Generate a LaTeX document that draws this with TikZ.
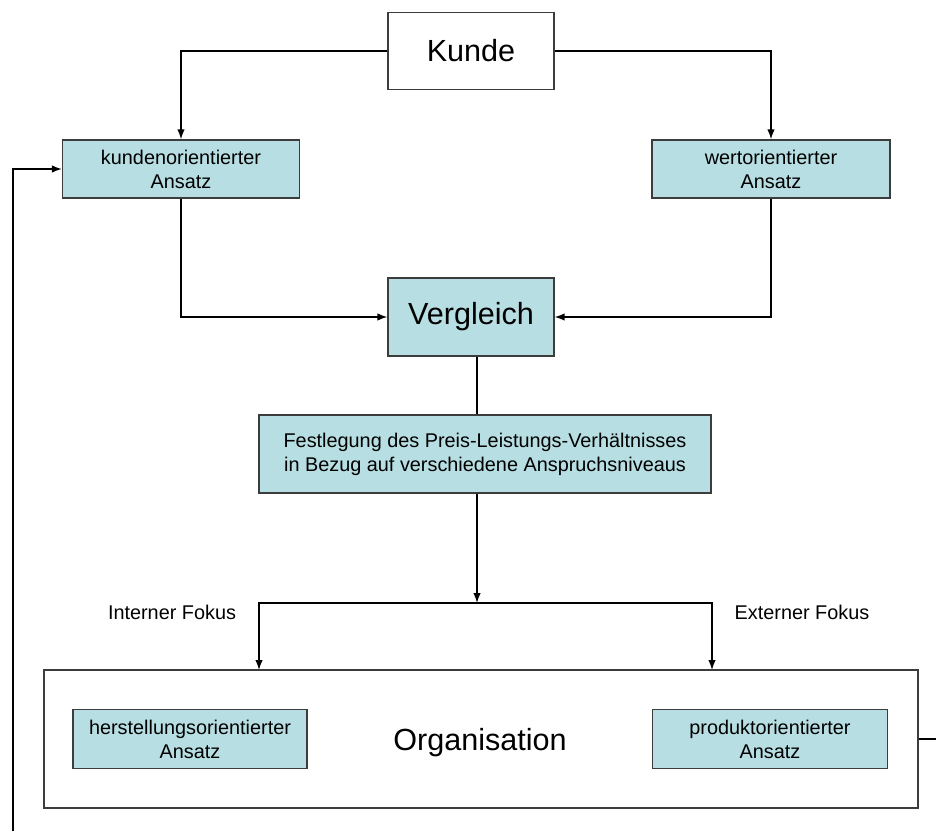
\documentclass[tikz,border=0pt]{standalone}
\usepackage{fontspec}
\setmainfont{Liberation Sans}
\usepackage{tikz}
\usetikzlibrary{arrows.meta}
\usetikzlibrary{positioning}
\definecolor{boxfill}{RGB}{183,222,226}
\definecolor{boxline}{RGB}{60,60,60}

\tikzset{
    box/.style={draw=boxline, line width=0.8pt, fill=boxfill, inner sep=0pt, align=center,
        font=\fontsize{11.3}{13.6}\selectfont},
    bigbox/.style={box, font=\fontsize{17.4}{20}\selectfont},
    conn/.style={line width=0.8pt, draw=black},
    fokus/.style={font=\fontsize{11.3}{13.6}\selectfont}
}

\begin{document}
\begin{tikzpicture}[x=0.02cm, y=-0.02cm, >={Latex[length=2mm,width=1.5mm]}]
        \useasboundingbox (0,0) rectangle (936,831);

        % Kunde und Ansaetze
        \node[bigbox, fill=white, minimum width=3.32cm, minimum height=1.54cm] (kunde) at (471,51) {Kunde};
        \node[box, minimum width=4.74cm, minimum height=1.16cm] (kunden) at (181,169) {kundenorientierter\\Ansatz};
        \node[box, minimum width=4.76cm, minimum height=1.16cm] (wert) at (771,169) {wertorientierter\\Ansatz};

        \node[bigbox, minimum width=3.32cm, minimum height=1.56cm] (vergleich) at (471,317) {Vergleich};
        \node[box, minimum width=9.04cm, minimum height=1.56cm] (fest) at (485,454)
            {Festlegung des Preis-Leistungs-Verh\"altnisses\\in Bezug auf verschiedene Anspruchsniveaus};

        % Organisation
        \node[bigbox, fill=white, minimum width=17.48cm, minimum height=2.76cm] (org) at (481,739) {};
        \node[font=\fontsize{17.4}{20}\selectfont] (orgtext) at (480,743) {Organisation};
        \node[box, minimum width=4.68cm, minimum height=1.18cm] (herst) at (190,739) {herstellungsorientierter\\Ansatz};
        \node[box, minimum width=4.70cm, minimum height=1.18cm] (produkt) at (770,739) {produktorientierter\\Ansatz};

        \node[fokus] (intern) at (172,612) {Interner Fokus};
        \node[fokus] (extern) at (802,612) {Externer Fokus};

        \path
        (477,603) coordinate (split)
        (259,670) coordinate (inL)
        (712,670) coordinate (exL)
        (936,739) coordinate (rueckR)
        (13,831)  coordinate (rueckL)
        ;

        \draw[conn,->] (kunde.west) -| (kunden.north);
        \draw[conn,->] (kunde.east) -| (wert.north);
        \draw[conn,->] (kunden.south) |- (vergleich.west);
        \draw[conn,->] (wert.south) |- (vergleich.east);

        \draw[conn] (vergleich.south -| split) -- (fest.north -| split);
        \draw[conn,->] (fest.south -| split) -- (split);
        \draw[conn,->] (split) -| (inL);
        \draw[conn,->] (split) -| (exL);

        % Rueckkopplung
        \draw[conn] (org.east) -- (rueckR);
        \draw[conn,->] (rueckL) |- (kunden.west);
\end{tikzpicture}
\end{document}
